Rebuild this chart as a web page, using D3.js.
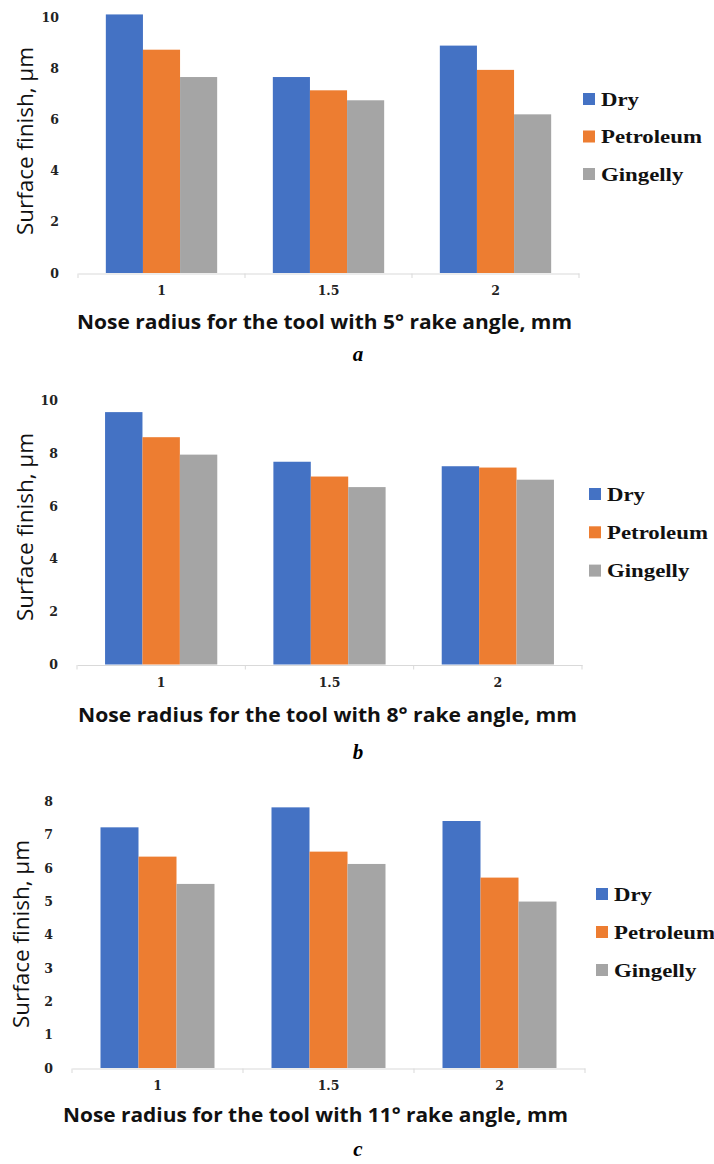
<!DOCTYPE html>
<html>
<head>
<meta charset="utf-8">
<script src="https://cdn.jsdelivr.net/npm/d3@7"></script>
<style>
  body { margin: 0; background: #fff; }
  svg { display: block; }
  .tick text { font-family: "DejaVu Serif", serif; font-weight: bold; font-size: 12.5px; fill: #222; }
</style>
</head>
<body>
<script>
// categories and series
const categories = ["1", "1.5", "2"];
const seriesNames = ["Dry", "Petroleum", "Gingelly"];
const seriesColors = ["#4472C4", "#ED7D31", "#A5A5A5"];

// panel a : 5 deg rake angle
const dryA = [10.12, 7.67, 8.90];
const petroleumA = [8.74, 7.15, 7.95];
const gingellyA = [7.67, 6.76, 6.21];
const yTicksA = [0, 2, 4, 6, 8, 10];

// panel b : 8 deg rake angle
const dryB = [9.56, 7.68, 7.51];
const petroleumB = [8.61, 7.12, 7.46];
const gingellyB = [7.95, 6.72, 7.00];
const yTicksB = [0, 2, 4, 6, 8, 10];

// panel c : 11 deg rake angle
const dryC = [7.23, 7.83, 7.42];
const petroleumC = [6.35, 6.50, 5.72];
const gingellyC = [5.53, 6.13, 5.00];
const yTicksC = [0, 1, 2, 3, 4, 5, 6, 7, 8];

const xTitles = [
  "Nose radius for the tool with 5° rake angle, mm",
  "Nose radius for the tool with 8° rake angle, mm",
  "Nose radius for the tool with 11° rake angle, mm"
];
const panelLetters = ["a", "b", "c"];

const svg = d3.select("body")
    .append("svg")
    .attr("width", 714)
    .attr("height", 1164);

// layout of each panel (positions only)
const panels = [
  { series: [dryA, petroleumA, gingellyA], ticks: yTicksA, yMax: 10,
    x0: 78, x1: 579, yBottom: 273, yTop: 17.5,
    yLabel: [25, 141], title: [324.5, 328.5, 495], letter: [358, 361],
    legend: [583, 99, 37.5] },
  { series: [dryB, petroleumB, gingellyB], ticks: yTicksB, yMax: 10,
    x0: 77, x1: 582, yBottom: 664.5, yTop: 400.5,
    yLabel: [25, 527], title: [327.5, 721.5, 499], letter: [358, 759],
    legend: [589, 494, 38.3] },
  { series: [dryC, petroleumC, gingellyC], ticks: yTicksC, yMax: 8,
    x0: 72, x1: 585, yBottom: 1068, yTop: 801.7,
    yLabel: [21, 934], title: [315.5, 1121.5, 505], letter: [358, 1156],
    legend: [596, 894, 38] }
];

panels.forEach(function(p, pi){

    const g = svg.append("g");

    const xOuter = d3.scaleBand()
        .domain(categories)
        .range([p.x0, p.x1])
        .padding(0);

    const xInner = d3.scaleBand()
        .domain(seriesNames)
        .range([0, xOuter.bandwidth()])
        .paddingInner(0)
        .paddingOuter(0.75);

    const y = d3.scaleLinear()
        .domain([0, p.yMax])
        .range([p.yBottom, p.yTop]);

    // bars
    seriesNames.forEach(function(s, si){
        g.selectAll(".bar" + si)
            .data(p.series[si])
            .enter()
            .append("rect")
            .attr("x", (d, i) => xOuter(categories[i]) + xInner(s))
            .attr("y", d => y(d))
            .attr("width", xInner.bandwidth())
            .attr("height", d => y(0) - y(d))
            .attr("fill", seriesColors[si]);
    });

    // y axis (labels only)
    const yAxis = g.append("g")
        .attr("transform", "translate(" + p.x0 + ",0)")
        .call(d3.axisLeft(y).tickValues(p.ticks).tickSize(0).tickPadding(19));
    yAxis.select(".domain").remove();

    // x axis
    const xAxis = g.append("g")
        .attr("transform", "translate(0," + (p.yBottom + 0.5) + ")")
        .call(d3.axisBottom(xOuter).tickSize(0).tickSizeOuter(0).tickPadding(13));
    xAxis.select(".domain").attr("stroke", "#d9d9d9");

    // boundary ticks between categories
    const bounds = categories.map(c => xOuter(c)).concat([p.x1]);
    g.selectAll(".btick")
        .data(bounds)
        .enter()
        .append("line")
        .attr("x1", d => d).attr("x2", d => d)
        .attr("y1", p.yBottom + 0.5).attr("y2", p.yBottom + 5)
        .attr("stroke", "#d9d9d9");

    // y axis title
    g.append("text")
        .attr("transform", "translate(" + p.yLabel[0] + "," + p.yLabel[1] + ") rotate(-90)")
        .attr("text-anchor", "middle")
        .attr("dominant-baseline", "central")
        .attr("textLength", 188)
        .attr("lengthAdjust", "spacingAndGlyphs")
        .style("font-family", "Open Sans, sans-serif")
        .style("font-size", "21px")
        .style("fill", "#111")
        .text("Surface finish, µm");

    // x axis title
    g.append("text")
        .attr("x", p.title[0])
        .attr("y", p.title[1])
        .attr("text-anchor", "middle")
        .attr("textLength", p.title[2])
        .attr("lengthAdjust", "spacingAndGlyphs")
        .style("font-family", "Open Sans, sans-serif")
        .style("font-weight", "bold")
        .style("font-size", "19.5px")
        .style("fill", "#111")
        .text(xTitles[pi]);

    // panel letter
    g.append("text")
        .attr("x", p.letter[0])
        .attr("y", p.letter[1])
        .attr("text-anchor", "middle")
        .style("font-family", "Liberation Serif, serif")
        .style("font-weight", "bold")
        .style("font-style", "italic")
        .style("font-size", "21px")
        .style("fill", "#000")
        .text(panelLetters[pi]);

    // legend
    seriesNames.forEach(function(s, si){
        const cy = p.legend[1] + si * p.legend[2];
        g.append("rect")
            .attr("x", p.legend[0])
            .attr("y", cy - 6)
            .attr("width", 12)
            .attr("height", 12)
            .attr("fill", seriesColors[si]);
        const t = g.append("text")
            .attr("x", p.legend[0] + 18)
            .attr("y", cy + 6.5)
            .style("font-family", "Liberation Serif, serif")
            .style("font-weight", "bold")
            .style("font-size", "19px")
            .style("fill", "#111")
            .text(s);
        const len = t.node().getComputedTextLength();
        t.attr("textLength", len * 1.2).attr("lengthAdjust", "spacingAndGlyphs");
    });
});
</script>
</body>
</html>
